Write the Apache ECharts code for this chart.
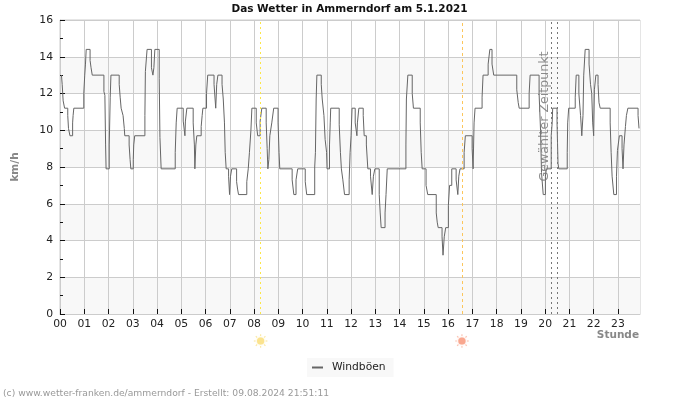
<!DOCTYPE html>
<html><head><meta charset="utf-8">
<style>html,body{margin:0;padding:0;background:#fff}#c{width:700px;height:400px}</style>
<script src="https://cdn.jsdelivr.net/npm/echarts@6/dist/echarts.min.js"></script>
</head><body><div id="c"></div>
<script>
const hourTicks = [0,1,2,3,4,5,6,7,8,9,10,11,12,13,14,15,16,17,18,19,20,21,22,23];
const hourLabels = ['00','01','02','03','04','05','06','07','08','09','10','11','12','13','14','15','16','17','18','19','20','21','22','23'];
const hours = [0.06,0.09,0.13,0.19,0.32,0.35,0.41,0.52,0.54,0.57,0.98,1.02,1.05,1.08,1.24,1.28,1.33,1.81,1.85,1.88,1.90,2.03,2.07,2.10,2.44,2.48,2.52,2.60,2.65,2.67,2.85,2.89,2.92,3.02,3.04,3.08,3.50,3.52,3.59,3.77,3.83,3.87,3.91,4.09,4.12,4.17,4.75,4.79,4.83,5.08,5.15,5.17,5.23,5.49,5.54,5.56,5.60,5.64,5.82,5.86,5.89,6.04,6.09,6.35,6.42,6.46,6.51,6.68,6.73,6.78,6.81,6.85,6.95,6.99,7.03,7.08,7.28,7.32,7.36,7.70,7.76,7.81,7.87,7.91,8.09,8.15,8.25,8.32,8.50,8.54,8.57,8.61,8.65,8.73,8.81,8.99,9.03,9.06,9.57,9.64,9.73,9.80,10.11,10.17,10.50,10.53,10.56,10.59,10.77,10.81,10.88,10.93,10.99,11.01,11.11,11.14,11.16,11.51,11.56,11.60,11.66,11.73,11.92,11.96,12.00,12.04,12.17,12.24,12.26,12.32,12.50,12.54,12.63,12.69,12.80,12.87,12.92,12.98,13.16,13.20,13.24,13.40,13.44,13.49,14.26,14.28,14.34,14.52,14.57,14.85,14.89,14.93,15.09,15.16,15.51,15.55,15.59,15.75,15.79,15.84,15.90,16.01,16.06,16.15,16.33,16.40,16.44,16.49,16.66,16.71,16.99,17.03,17.07,17.11,17.40,17.44,17.65,17.72,17.81,17.88,18.83,18.89,18.93,19.34,19.38,19.75,19.81,19.85,19.92,20.01,20.05,20.25,20.29,20.31,20.49,20.53,20.56,20.91,20.93,20.97,21.24,21.28,21.39,21.46,21.51,21.56,21.59,21.65,21.81,21.87,21.92,21.96,22.00,22.03,22.09,22.18,22.22,22.27,22.68,22.72,22.76,22.83,22.94,22.98,23.06,23.17,23.21,23.25,23.31,23.35,23.41,23.83,23.87];
const gusts = [13,12.5,11.6,11.2,10.8,10.1,9.7,10.4,10.8,11.2,12,13,13.6,14.4,13.8,13.4,13,12.1,11.9,9.2,7.9,9.2,11.8,13,12.5,11.8,11.2,10.8,10.1,9.7,9.2,8.4,7.9,8.4,9.2,9.7,10.8,13.2,14.4,13.4,13,13.4,14.4,12.8,9.6,7.9,8.8,10.4,11.2,10.5,9.7,10.5,11.2,10.4,9.2,7.9,9.2,9.7,10.2,10.8,11.2,12,13,12.5,11.2,12.5,13,12.5,11.7,10.4,8.8,7.9,7.5,6.5,7.5,7.9,7.2,6.8,6.5,7.2,7.9,8.8,10,11.2,10.4,9.7,10.5,11.2,10.4,9,7.9,8.4,9.7,10.4,11.2,10.4,8.8,7.9,7.3,6.5,7.3,7.9,7.2,6.5,8,8.8,11.7,13,12.5,11.7,10.8,9.5,8.8,7.9,9.2,10.4,11.2,10.3,8.8,7.9,7.3,6.5,7.3,8.8,9.7,11.2,10.4,9.7,10.4,11.2,10.8,9.7,9.2,7.9,7.5,6.5,7.5,7.9,6.5,5.5,4.7,5.5,6.5,7.9,9.2,11.7,13,12,11.2,10.4,8.8,7.9,7,6.5,5.5,5,4.7,4.2,3.2,4.2,4.7,5.9,7,7.9,7.3,6.5,7.5,7.9,8.8,9.7,9,7.9,10.4,11.2,11.8,13,13.6,14.4,13.6,13,12.2,11.5,11.2,12,13,12,10,7.7,6.5,7.5,7.9,9.7,10.4,11.2,10.4,8.2,7.9,8.8,10.4,11.2,11.8,13,12,10.8,9.7,10.8,13,14.4,13.6,12.5,12,10.4,9.7,12.2,13,12.5,11.5,11.2,10.4,8.8,7.5,6.5,7.5,8.9,9.7,9,7.9,9.2,10.2,10.8,11.2,10.8,10.1];
const sunriseHour = 8.27;
const sunsetHour = 16.57;
const selectedHours = [20.24, 20.49];
const seriesName = 'Windböen';
const titleText = 'Das Wetter in Ammerndorf am 5.1.2021';
const footerText = '(c) www.wetter-franken.de/ammerndorf - Erstellt: 09.08.2024 21:51:11';
const selectedText = 'Gewählter Zeitpunkt';

const font = '"DejaVu Sans"';
const chart = echarts.init(document.getElementById('c'), null, {renderer:'canvas'});
function vline(h, color, type, width){
  return {xAxis:h, lineStyle:{color:color, type:type, width:width}};
}
function sun(h, core, ray){
  const x = chart.convertToPixel({xAxisIndex:0}, h);
  const cy = 341, parts = [];
  for (let i=0;i<8;i++){
    const a = i*Math.PI/4;
    parts.push({type:'line',silent:true,shape:{x1:x+5*Math.cos(a),y1:cy+5*Math.sin(a),x2:x+6.8*Math.cos(a),y2:cy+6.8*Math.sin(a)},style:{stroke:ray,lineWidth:1.2}});
  }
  parts.push({type:'circle',silent:true,shape:{cx:x,cy:cy,r:3.6},style:{fill:core,shadowBlur:2,shadowColor:ray}});
  return parts;
}
chart.setOption({
  animation:false,
  backgroundColor:'#fff',
  textStyle:{fontFamily:font},
  title:{text:titleText,left:344.5,top:-1,textAlign:'center',textStyle:{fontFamily:font,fontSize:10.5,fontWeight:'bold',color:'#111'}},
  legend:{left:307,top:358,padding:[4,8,4,5],backgroundColor:'#f8f8f8',itemWidth:11,itemHeight:2,itemGap:0,icon:'rect',
    data:[seriesName],textStyle:{fontFamily:font,fontSize:10.7,color:'#222',padding:[0,0,0,4]}},
  grid:{left:60,right:60,top:20,bottom:86,show:true,borderColor:'#ccc',borderWidth:1,backgroundColor:'transparent'},
  xAxis:{type:'value',min:0,max:23.91,
    name:'Stunde',nameLocation:'end',nameGap:0,
    nameTextStyle:{fontFamily:font,fontSize:10.5,fontWeight:'bold',color:'#888',align:'right',verticalAlign:'top',padding:[16,1,0,0]},
    axisLine:{lineStyle:{color:'#ccc'}},
    axisTick:{inside:true,length:5,lineStyle:{color:'#111'},customValues:hourTicks},
    axisLabel:{color:'#222',fontSize:10.8,margin:5,fontFamily:font,customValues:hourTicks,formatter:v=>hourLabels[hourTicks.indexOf(v)]},
    splitLine:{show:true,lineStyle:{color:'#ccc',width:1}}
  },
  yAxis:{type:'value',min:0,max:16,interval:2,
    name:'km/h',nameLocation:'middle',nameGap:39,nameRotate:90,
    nameTextStyle:{fontFamily:font,fontSize:10.5,fontWeight:'bold',color:'#888'},
    axisLine:{show:true,lineStyle:{color:'#ccc'}},
    axisTick:{show:true,inside:true,length:5,lineStyle:{color:'#111'}},
    minorTick:{show:true,splitNumber:2,length:3,lineStyle:{color:'#111'}},
    axisLabel:{color:'#222',fontSize:10.8,margin:7,fontFamily:font},
    splitLine:{show:true,lineStyle:{color:'#ccc',width:1}},
    splitArea:{show:true,areaStyle:{color:['#f8f8f8','#ffffff']}}
  },
  series:[{
    name:seriesName,type:'line',step:'end',showSymbol:false,symbol:'none',
    data:hours.map((h,i)=>[h,gusts[i]]),
    lineStyle:{color:'#666',width:1},itemStyle:{color:'#666'},
    markLine:{silent:true,symbol:'none',label:{show:false},animation:false,
      data:[vline(sunriseHour,'#fbe64a',[2,3],1),vline(sunsetHour,'#fcc65c',[3,3],1),
            vline(selectedHours[0],'#777',[2,3],1),vline(selectedHours[1],'#777',[2,3],1)]}
  }]
});
chart.setOption({graphic:[
  {type:'text',silent:true,x:544.5,y:116.5,rotation:Math.PI/2,z:10,
    style:{text:selectedText,fontFamily:font,fontSize:12.6,fill:'rgba(120,120,120,0.85)',align:'center',verticalAlign:'middle'}},
  {type:'text',silent:true,left:3,top:389,style:{text:footerText,fontFamily:font,fontSize:9.2,fill:'#999'}},
  ...sun(sunriseHour,'#fbe38e','#fbeaa8'),
  ...sun(sunsetHour,'#f9a78f','#fbc6b6')
]});
</script></body></html>
